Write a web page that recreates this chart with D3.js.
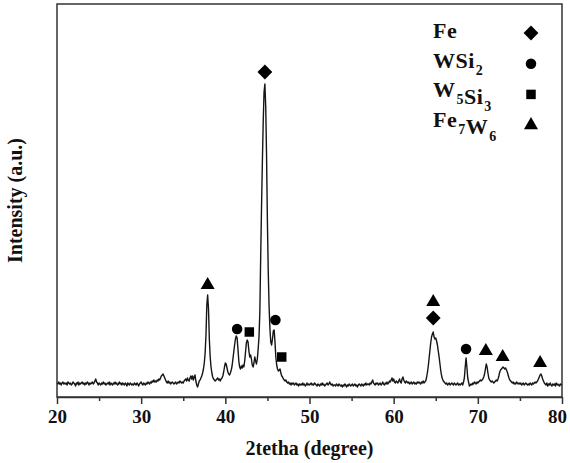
<!DOCTYPE html>
<html>
<head>
<meta charset="utf-8">
<script src="https://cdn.jsdelivr.net/npm/d3@7"></script>
<style>
body { margin: 0; background: #fff; }
text { font-family: "Liberation Serif", "Times New Roman", serif; font-weight: bold; fill: #111; }
</style>
</head>
<body>
<div class="chart"></div>
<script>
// XRD pattern, 2theta from 20 to 80 deg, one reading every 0.1 deg
const startAngle = 20;
const stepAngle = 0.1;
const intensity = [
  14,13,15,13,14,12,14,15,13,14, // 20
  13,14,12,15,14,13,14,12,13,15,
  14,13,11,14,13,15,12,14,13,14,
  15,13,14,12,14,13,15,14,12,14,
  13,14,15,13,14,16,18,15,14,12,
  14,13,12,14,13,15,13,14,12,13, // 25
  14,13,15,12,14,13,12,14,13,15,
  13,14,12,13,15,13,14,12,14,13,
  12,14,13,11,14,13,12,14,13,12,
  13,12,14,13,12,14,13,11,13,14,
  15,13,12,14,13,12,14,13,15,14, // 30
  13,15,14,16,15,17,15,16,15,17,
  16,18,17,19,21,22,23,21,19,17,
  15,14,16,14,15,13,14,15,14,13,
  14,15,13,14,15,14,16,15,14,15,
  14,16,17,18,16,19,17,16,19,21, // 35
  18,21,17,20,22,16,12,10,13,16,
  17,19,21,24,28,34,44,62,92,102,
  88,58,40,30,24,20,18,17,16,17,
  18,19,17,18,16,18,19,21,25,30,
  34,33,29,25,23,22,24,27,31,38, // 40
  45,52,58,61,59,48,36,30,28,31,
  29,32,30,36,45,54,57,55,46,40,
  42,38,32,30,34,40,36,33,38,48,
  60,85,140,190,235,275,305,313,290,240,
  175,125,90,68,55,52,58,66,67,55, // 45
  40,32,28,26,27,28,24,21,20,18,
  17,16,17,15,14,15,13,14,12,14,
  13,14,12,13,14,12,13,11,13,12,
  13,12,14,12,13,11,12,14,12,13,
  12,13,14,12,13,12,14,13,12,11, // 50
  13,12,11,13,12,14,12,13,11,12,
  13,14,12,13,15,13,12,13,11,12,
  12,11,13,12,11,13,12,11,12,10,
  12,11,13,12,10,12,11,13,12,11,
  12,13,11,12,13,11,12,10,12,13, // 55
  12,11,13,12,11,13,12,14,12,13,
  13,12,14,13,15,17,14,13,12,14,
  13,14,12,13,14,12,13,15,13,12,
  14,13,15,13,14,16,15,17,19,16,
  18,15,14,16,15,14,16,18,15,14, // 60
  18,20,17,15,14,16,15,14,15,13,
  14,15,13,14,15,13,14,13,15,14,
  15,14,13,15,14,16,14,15,16,19,
  24,30,38,46,54,60,63,65,60,58,
  59,56,52,46,40,33,26,21,18,16, // 65
  15,14,13,14,12,13,14,12,13,14,
  13,12,14,13,12,13,14,12,13,12,
  13,14,12,15,19,30,39,30,19,15,
  11,12,13,12,14,13,15,14,13,15,
  14,15,16,17,16,17,18,20,23,28, // 70
  33,30,24,19,17,16,15,16,15,14,
  15,16,17,16,18,21,25,27,28,29,
  30,29,28,29,27,25,22,19,17,16,
  15,14,15,13,14,13,15,14,13,14,
  13,14,12,13,14,12,13,14,13,12, // 75
  13,12,14,13,12,14,13,14,15,14,
  15,16,18,20,22,23,21,18,16,14,
  13,12,14,11,13,12,14,12,11,13,
  12,13,11,14,12,13,12,11,13,12,
  13 // 80
];

const xTicks = [20, 30, 40, 50, 60, 70, 80];
const xMinorTicks = [25, 35, 45, 55, 65, 75];

// phase markers: [2theta, level where the mark sits]
const fePeaks = [[44.7, 325], [64.7, 79]];
const wsi2Peaks = [[41.4, 68], [45.95, 77], [68.6, 48]];
const w5si3Peaks = [[42.85, 65], [46.7, 40]];
const fe7w6Peaks = [[37.9, 112], [64.7, 95], [70.95, 46], [72.95, 40], [77.4, 34]];

const phaseNames = ["Fe", "WSi_2", "W_5Si_3", "Fe_7W_6"];

const w = 570, h = 463;
const plotLeft = 57, plotRight = 562, plotTop = 4, plotBottom = 397;

const svg = d3.select('div.chart')
  .append('svg')
  .attr('width', w)
  .attr('height', h);

const xScale = d3.scaleLinear().domain([20, 80]).range([plotLeft, plotRight]);
const yScale = d3.scaleLinear().domain([0, 393]).range([plotBottom, plotTop]);

const points = intensity.map((v, i) => [startAngle + i * stepAngle, v]);

const line = d3.line()
  .x(d => xScale(d[0]))
  .y(d => yScale(d[1]));

svg.append('path')
  .datum(points)
  .attr('fill', 'none')
  .attr('stroke', '#151515')
  .attr('stroke-width', 1.4)
  .attr('stroke-linejoin', 'round')
  .attr('d', line);

// frame
svg.append('rect')
  .attr('x', plotLeft)
  .attr('y', plotTop)
  .attr('width', plotRight - plotLeft)
  .attr('height', plotBottom - plotTop)
  .attr('fill', 'none')
  .attr('stroke', '#333')
  .attr('stroke-width', 1.5);

const xAxis = d3.axisBottom(xScale)
  .tickValues(xTicks)
  .tickSize(7)
  .tickSizeOuter(0)
  .tickPadding(6)
  .tickFormat(d3.format('d'));

const gx = svg.append('g')
  .attr('transform', 'translate(0,' + plotBottom + ')')
  .call(xAxis);
gx.select('.domain').attr('stroke', '#333').attr('stroke-width', 1.5);
gx.selectAll('.tick line').attr('stroke', '#333').attr('stroke-width', 1.5);
gx.selectAll('.tick text')
  .attr('font-family', '"Liberation Serif", serif')
  .attr('font-weight', 'bold')
  .attr('font-size', 19)
  .attr('fill', '#111')
  .attr('dx', d => d === 80 ? -5 : 0);

const gxMinor = svg.append('g')
  .attr('transform', 'translate(0,' + plotBottom + ')')
  .call(d3.axisBottom(xScale).tickValues(xMinorTicks).tickSize(4).tickSizeOuter(0).tickFormat(''));
gxMinor.select('.domain').remove();
gxMinor.selectAll('.tick line').attr('stroke', '#333').attr('stroke-width', 1.5);

svg.append('text')
  .attr('x', (plotLeft + plotRight) / 2)
  .attr('y', 455)
  .attr('text-anchor', 'middle')
  .attr('font-size', 20)
  .text('2tetha (degree)');

svg.append('text')
  .attr('transform', 'translate(22,' + ((plotTop + plotBottom) / 2) + ') rotate(-90)')
  .attr('text-anchor', 'middle')
  .attr('font-size', 20)
  .text('Intensity (a.u.)');

// symbols
const diamond = d3.symbol().type(d3.symbolSquare).size(110);
const circle = d3.symbol().type(d3.symbolCircle).size(87);
const square = d3.symbol().type(d3.symbolSquare).size(90);
const triangle = d3.symbol().type(d3.symbolTriangle).size(85);
const shapes = [
  {gen: diamond, rot: 45, peaks: fePeaks},
  {gen: circle, rot: 0, peaks: wsi2Peaks},
  {gen: square, rot: 0, peaks: w5si3Peaks},
  {gen: triangle, rot: 0, peaks: fe7w6Peaks}
];

shapes.forEach(s => {
  svg.selectAll(null)
    .data(s.peaks)
    .enter()
    .append('path')
    .attr('d', s.gen())
    .attr('fill', '#000')
    .attr('transform', d => 'translate(' + xScale(d[0]) + ',' + yScale(d[1]) + ') rotate(' + s.rot + ')');
});

// legend
const legend = svg.append('g');
phaseNames.forEach((name, i) => {
  const t = legend.append('text')
    .attr('x', 433)
    .attr('y', 38 + i * 29.5)
    .attr('font-size', 22)
    .attr('letter-spacing', 0.5);
  name.split(/(_\d)/).filter(p => p.length).forEach(p => {
    if (p[0] === '_') {
      t.append('tspan').attr('font-size', 14).attr('dx', 1).attr('dy', 7).text(p.slice(1));
      t.append('tspan').attr('dy', -7).text('');
    } else {
      t.append('tspan').text(p);
    }
  });
  legend.append('path')
    .attr('d', shapes[i].gen())
    .attr('fill', '#000')
    .attr('transform', 'translate(531,' + (33 + i * 30.7) + ') rotate(' + shapes[i].rot + ')');
});
</script>
</body>
</html>
